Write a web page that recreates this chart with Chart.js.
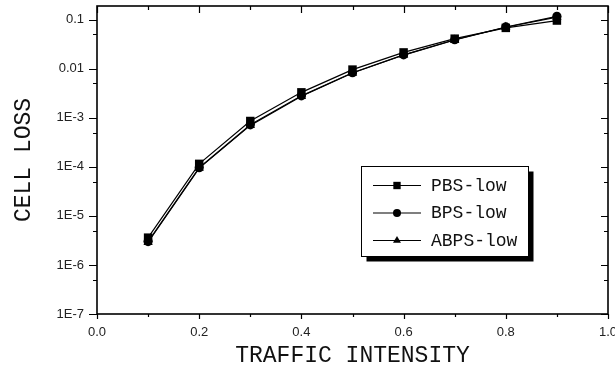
<!DOCTYPE html>
<html>
<head>
<meta charset="utf-8">
<script src="https://cdn.jsdelivr.net/npm/chart.js@4/dist/chart.umd.min.js"></script>
<style>
  html, body { margin: 0; padding: 0; background: #fff; }
  #wrap { width: 615px; height: 370px; position: relative; }
</style>
</head>
<body>
<div id="wrap"><canvas id="c" width="615" height="370"></canvas></div>
<script>
// Traffic intensity (x) and cell loss probability for the three schemes
const intensity = [0.1, 0.2, 0.3, 0.4, 0.5, 0.6, 0.7, 0.8, 0.9];
const pbsLow  = [3.6e-6, 1.15e-4, 8.6e-4, 3.3e-3, 9.6e-3, 0.0215, 0.041, 0.068, 0.096];
const bpsLow  = [3.0e-6, 9.6e-5, 7.2e-4, 2.8e-3, 8.3e-3, 0.0192, 0.039, 0.071, 0.117];
const abpsLow = [2.9e-6, 9.4e-5, 7.0e-4, 2.75e-3, 8.2e-3, 0.019, 0.0385, 0.070, 0.113];

const seriesNames = ['PBS-low', 'BPS-low', 'ABPS-low'];
const seriesMarkers = ['rect', 'circle', 'triangle'];
const seriesValues = [pbsLow, bpsLow, abpsLow];

const yDecades = [1e-7, 1e-6, 1e-5, 1e-4, 1e-3, 0.01, 0.1];
const yLabels = ['1E-7', '1E-6', '1E-5', '1E-4', '1E-3', '0.01', '0.1'];
const xTicks = [0, 0.2, 0.4, 0.6, 0.8, 1.0];

const monoFont = '"Liberation Mono", "DejaVu Sans Mono", monospace';
const sansFont = '"Liberation Sans", Arial, sans-serif';

function markerSize(style) {
  return style === 'rect' ? 6 : (style === 'triangle' ? 5.4 : 4.6);
}

const datasets = seriesNames.map((name, i) => ({
  label: name,
  data: intensity.map((x, k) => ({ x: x, y: seriesValues[i][k] })),
  showLine: true,
  borderColor: '#000',
  backgroundColor: '#000',
  borderWidth: 1.2,
  pointStyle: seriesMarkers[i],
  pointRadius: markerSize(seriesMarkers[i]),
  pointBorderWidth: 0,
  order: i === 0 ? 0 : 1
}));

// Frame, inward/outward tick marks and the shadowed legend box
const framePlugin = {
  id: 'frame',
  afterDraw(chart) {
    const ctx = chart.ctx;
    const a = chart.chartArea;
    const xs = chart.scales.x, ys = chart.scales.y;
    ctx.save();
    ctx.strokeStyle = '#000';
    ctx.lineWidth = 1.6;
    ctx.strokeRect(a.left, a.top, a.right - a.left, a.bottom - a.top);

    ctx.lineWidth = 1.2;
    ctx.beginPath();
    // x ticks every 0.1: bottom outward, top inward
    for (let i = 0; i <= 10; i++) {
      const px = Math.round(xs.getPixelForValue(i / 10)) + 0.5;
      const major = i % 2 === 0;
      const lb = major ? 5 : 3;
      const lt = major ? 7 : 4;
      ctx.moveTo(px, a.bottom); ctx.lineTo(px, a.bottom + lb);
      ctx.moveTo(px, a.top); ctx.lineTo(px, a.top + lt);
    }
    // y ticks at decades and at 5 x 10^n: left outward, right inward
    yDecades.forEach((v) => {
      const py = Math.round(ys.getPixelForValue(v)) + 0.5;
      ctx.moveTo(a.left - 8, py); ctx.lineTo(a.left, py);
      ctx.moveTo(a.right, py); ctx.lineTo(a.right - 7, py);
      const m = v * 5;
      if (m < ys.max) {
        const pm = Math.round(ys.getPixelForValue(m)) + 0.5;
        ctx.moveTo(a.left - 4, pm); ctx.lineTo(a.left, pm);
        ctx.moveTo(a.right, pm); ctx.lineTo(a.right - 4, pm);
      }
    });
    ctx.stroke();

    // legend box
    const bx = 361.5, by = 166.5, bw = 167, bh = 90;
    ctx.fillStyle = '#000';
    ctx.fillRect(bx + 5, by + 5, bw, bh);
    ctx.fillStyle = '#fff';
    ctx.fillRect(bx, by, bw, bh);
    ctx.lineWidth = 1;
    ctx.strokeStyle = '#000';
    ctx.strokeRect(bx, by, bw, bh);

    const rowY = [185, 212.5, 240];
    const legendRadius = { rect: 5.2, circle: 4, triangle: 4.6 };
    ctx.font = '18px ' + monoFont;
    ctx.textBaseline = 'middle';
    ctx.textAlign = 'left';
    chart.data.datasets.forEach((ds, i) => {
      const y = rowY[i];
      ctx.strokeStyle = '#000';
      ctx.lineWidth = 1.2;
      ctx.beginPath();
      ctx.moveTo(373, y + 0.5); ctx.lineTo(421, y + 0.5);
      ctx.stroke();
      ctx.fillStyle = '#000';
      Chart.helpers.drawPoint(ctx, {
        pointStyle: ds.pointStyle,
        radius: legendRadius[ds.pointStyle],
        rotation: 0,
        borderWidth: 0
      }, 397, y + 0.5);
      ctx.fillStyle = '#111';
      ctx.fillText(ds.label, 431, y + 1);
    });
    ctx.restore();
  }
};

new Chart(document.getElementById('c'), {
  type: 'scatter',
  data: { datasets: datasets },
  plugins: [framePlugin],
  options: {
    responsive: false,
    animation: false,
    devicePixelRatio: 1,
    layout: { padding: { top: 6, right: 7, left: 0, bottom: 0 } },
    plugins: { legend: { display: false }, tooltip: { enabled: false } },
    scales: {
      x: {
        type: 'linear',
        min: 0,
        max: 1,
        afterBuildTicks(scale) {
          scale.ticks = xTicks.map(v => ({ value: v }));
        },
        afterFit(scale) {
          scale.height = 56;
          scale.paddingLeft = 0;
          scale.paddingRight = 0;
        },
        grid: { display: false, drawTicks: false },
        border: { display: false },
        ticks: {
          padding: 11,
          color: '#222',
          font: { family: sansFont, size: 13 },
          callback: v => Number(v).toFixed(1)
        },
        title: {
          display: true,
          text: 'TRAFFIC INTENSITY',
          color: '#111',
          font: { family: monoFont, size: 23 },
          padding: { top: 6, bottom: 0 }
        }
      },
      y: {
        type: 'logarithmic',
        min: 1e-7,
        max: 0.19,
        afterBuildTicks(scale) {
          scale.ticks = yDecades.map(v => ({ value: v }));
        },
        afterFit(scale) {
          scale.width = 97;
          scale.paddingTop = 0;
          scale.paddingBottom = 0;
        },
        grid: { display: false, drawTicks: false },
        border: { display: false },
        ticks: {
          autoSkip: false,
          padding: 13,
          color: '#222',
          font: { family: sansFont, size: 13 },
          callback: v => {
            const k = yDecades.findIndex(d => Math.abs(Math.log10(d) - Math.log10(v)) < 1e-6);
            return k >= 0 ? yLabels[k] : '';
          }
        },
        title: {
          display: true,
          text: 'CELL LOSS',
          color: '#111',
          font: { family: monoFont, size: 23 },
          padding: { top: 10, bottom: 0 }
        }
      }
    }
  }
});
</script>
</body>
</html>
